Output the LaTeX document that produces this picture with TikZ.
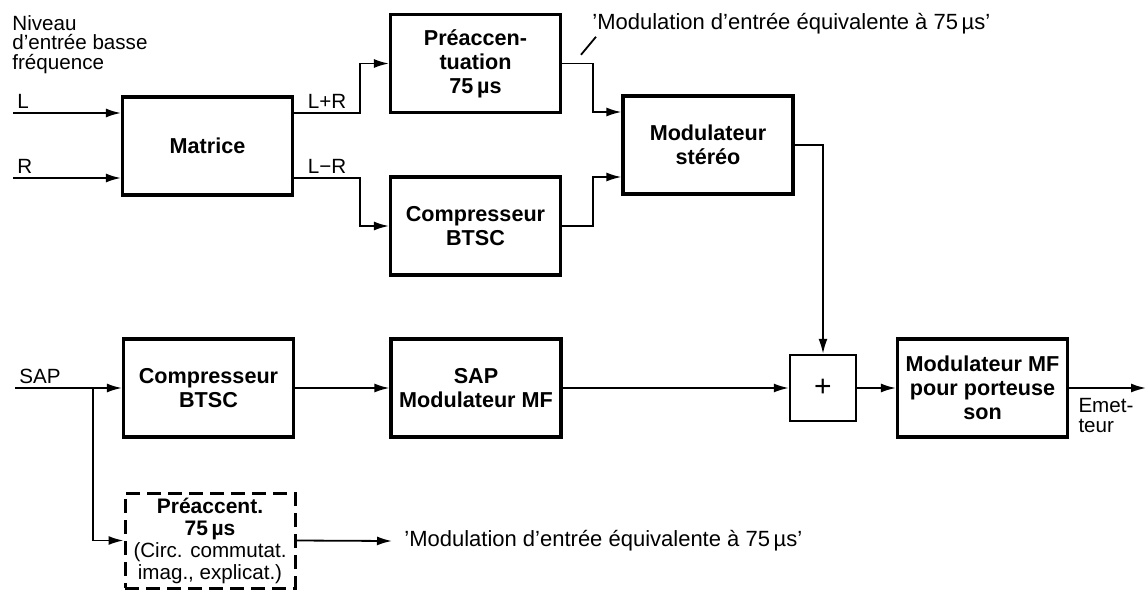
\documentclass[tikz,border=0pt]{standalone}
\usepackage{fontspec}
\setmainfont{Liberation Sans}
\usepackage{tikz}
\usetikzlibrary{arrows.meta, positioning}

\begin{document}
\begin{tikzpicture}[
    x=0.5pt, y=-0.5pt,
    block/.style={draw, line width=1.6pt, minimum width=85pt, minimum height=49pt,
                  align=center, inner sep=1pt,
                  font=\fontsize{10.8}{12}\selectfont\bfseries},
    sumbox/.style={draw, line width=1.2pt, minimum size=33pt,
                   font=\fontsize{15}{15}\selectfont},
    optbox/.style={block, dash pattern=on 7pt off 3.5pt, line width=1.5pt,
                   minimum height=47.5pt, font=\fontsize{10.5}{11}\selectfont\bfseries},
    wire/.style={line width=0.9pt},
    lbl/.style={font=\fontsize{10.3}{9.8}\selectfont, inner sep=1pt},
    note/.style={font=\fontsize{11}{11}\selectfont, inner sep=1pt},
    >={Latex[length=7.5pt, width=4.5pt]}
  ]
  \useasboundingbox (0,0) rectangle (1147,590);

  % blocks
  \node[block] (mat) at (207.5,146) {Matrice};
  \node[block] (pre) at (475.5,63.5) {Préaccen-\\tuation\\75\,µs};
  \node[block] (comp) at (475.5,226) {Compresseur\\BTSC};
  \node[block] (mod) at (708,145) {Modulateur\\stéréo};
  \node[block] (compsap) at (208.5,388) {Compresseur\\BTSC};
  \node[block] (modsap) at (476,388) {SAP\\Modulateur MF};
  \node[sumbox] (sum) at (823,388) {+};
  \node[block] (modmf) at (982.5,388) {Modulateur MF\\pour porteuse\\son};
  \node[optbox] (preopt) at (210,540.5)
    {Préaccent.\\75\,µs\\{\mdseries\fontsize{10.3}{11}\selectfont (Circ. commutat.}\\
     {\mdseries\fontsize{10.3}{11}\selectfont imag., explicat.)}};

  % inputs and outputs
  \coordinate (inL) at (13,113);
  \coordinate (inR) at (13,178);
  \coordinate (inSAP) at (15,388);
  \coordinate (split) at (93,388);
  \coordinate (out) at (1146,388);

  \node[lbl, anchor=north west, align=left] (niveau) at (10,13)
    {Niveau\\d'entrée basse\\fréquence};
  \node[lbl, above right, inner sep=2pt] (labL) at (inL) {L};
  \node[lbl, above right, inner sep=2pt] (labR) at (inR) {R};
  \node[lbl, above right, inner sep=2pt] (labSAP) at (inSAP) {SAP};
  \node[note, anchor=west] (qtop) at (590,24) {'Modulation d'entrée équivalente à 75\,µs'};
  \node[note, anchor=west, inner xsep=6pt] (qbot) at (392,541)
    {'Modulation d'entrée équivalente à 75\,µs'};
  \node[lbl, anchor=north west, align=left] (emet) at ([xshift=3.5pt,yshift=-4pt]modmf.east)
    {Emet-\\teur};

  % connectors
  \draw[wire, ->] (inL) -- (inL -| mat.west);
  \draw[wire, ->] (inR) -- (inR -| mat.west);
  \draw[wire, ->] (inL -| mat.east) -- node[lbl, above, inner sep=2pt] {L+R} ++(66,0) |- (pre.west);
  \draw[wire, ->] (inR -| mat.east) -- node[lbl, above, inner sep=2pt] {L−R} ++(66,0) |- (comp.west);
  \draw[wire, ->] (pre.east) -- ++(31,0) |- ([yshift=16.5pt]mod.west);
  \draw[wire, ->] (comp.east) -- ++(31,0) |- ([yshift=-16pt]mod.west);
  \draw[wire, ->] (mod.east) -| (sum.north);
  \draw[wire] (qtop.south west) ++(6,0) -- ++(-15,18);

  \draw[wire, ->] (inSAP) -- (compsap.west);
  \draw[wire, ->] (split) |- (preopt.west);
  \draw[wire, ->] (compsap.east) -- (modsap.west);
  \draw[wire, ->] (modsap.east) -- (sum.west);
  \draw[wire, ->] (sum.east) -- (modmf.west);
  \draw[wire, ->] (modmf.east) -- (out);
  \draw[wire, ->] (preopt.east) -- (qbot.west);
\end{tikzpicture}
\end{document}
